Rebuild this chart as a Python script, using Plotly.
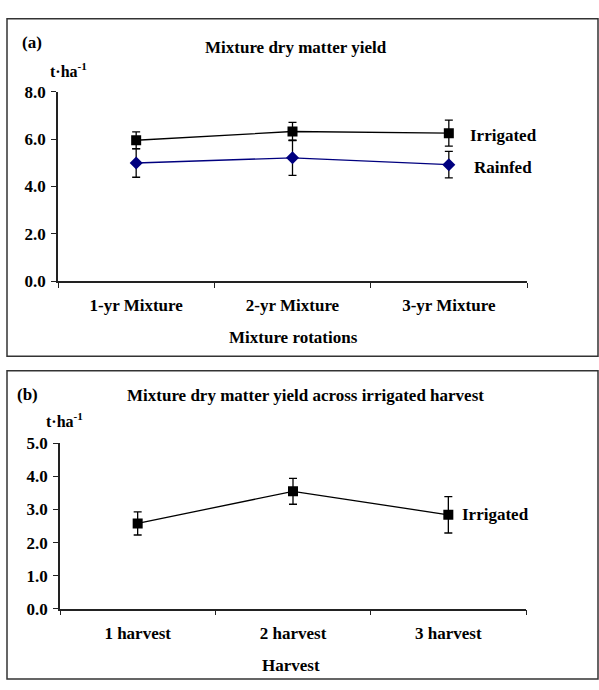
import plotly.graph_objects as go

# Panel (a): mixture dry matter yield by rotation
rotations = ["1-yr Mixture", "2-yr Mixture", "3-yr Mixture"]
irrigated_a = [5.95, 6.32, 6.25]
irrigated_a_err = [0.35, 0.38, 0.55]
rainfed_a = [4.99, 5.21, 4.92]
rainfed_a_err = [0.60, 0.74, 0.56]

# Panel (b): mixture dry matter yield across irrigated harvests
harvests = ["1 harvest", "2 harvest", "3 harvest"]
irrigated_b = [2.58, 3.55, 2.84]
irrigated_b_err = [0.35, 0.39, 0.55]

W, H = 599, 690
FONT = "Liberation Serif"
NAVY = "#00007f"
FS = 17


def px(x):
    return x / W


def py(y):
    return 1 - y / H


fig = go.Figure()

err_style = dict(type="data", color="black", thickness=1.3, width=4)

fig.add_trace(go.Scatter(
    x=rotations, y=irrigated_a, xaxis="x", yaxis="y",
    mode="lines+markers",
    line=dict(color="black", width=1.3),
    marker=dict(symbol="square", size=10, color="black"),
    error_y=dict(array=irrigated_a_err, **err_style),
    name="Irrigated", showlegend=False,
))
fig.add_trace(go.Scatter(
    x=rotations, y=rainfed_a, xaxis="x", yaxis="y",
    mode="lines+markers",
    line=dict(color=NAVY, width=1.3),
    marker=dict(symbol="diamond", size=10, color=NAVY),
    error_y=dict(array=rainfed_a_err, **err_style),
    name="Rainfed", showlegend=False,
))
fig.add_trace(go.Scatter(
    x=harvests, y=irrigated_b, xaxis="x2", yaxis="y2",
    mode="lines+markers",
    line=dict(color="black", width=1.3),
    marker=dict(symbol="square", size=10, color="black"),
    error_y=dict(array=irrigated_b_err, **err_style),
    name="Irrigated", showlegend=False,
))

tickfont = dict(family=FONT, size=FS, color="black", weight="bold")

xaxis_common = dict(
    type="category", range=[-0.5, 2.5], tickson="boundaries",
    ticks="outside", ticklen=5, tickwidth=1.3, tickcolor="#222",
    showline=True, linecolor="#222", linewidth=1.5,
    showgrid=False, zeroline=False, tickfont=tickfont,
    ticklabelstandoff=8, fixedrange=True,
)
yaxis_common = dict(
    ticks="outside", ticklen=5, tickwidth=1.3, tickcolor="#222",
    showline=True, linecolor="#222", linewidth=1.5,
    showgrid=False, zeroline=False, tickfont=tickfont,
    tickformat=".1f", ticklabelstandoff=2, fixedrange=True,
)

fig.update_layout(
    width=W, height=H,
    margin=dict(l=0, r=0, t=0, b=0),
    paper_bgcolor="white", plot_bgcolor="white",
    font=dict(family=FONT, color="black", weight="bold"),
    xaxis=dict(domain=[px(58), px(527)], anchor="y", **xaxis_common),
    yaxis=dict(domain=[py(280), py(85)], anchor="x", range=[0, 8], dtick=2,
               **yaxis_common),
    xaxis2=dict(domain=[px(60), px(526)], anchor="y2", **xaxis_common),
    yaxis2=dict(domain=[py(616.7), py(446.7)], anchor="x2", range=[0, 5],
                dtick=1, **yaxis_common),
)

# Panel frames
frame = dict(type="rect", xref="paper", yref="paper",
             line=dict(color="#333", width=1.5), fillcolor="rgba(0,0,0,0)")
fig.add_shape(x0=px(7), x1=px(598), y0=py(357), y1=py(10), **frame)
fig.add_shape(x0=px(7), x1=px(598), y0=py(689), y1=py(372), **frame)


def text(x, y, s, size=FS, xanchor="center", **kw):
    fig.add_annotation(
        x=x, y=y, text=s, showarrow=False, xanchor=xanchor, yanchor="middle",
        font=dict(family=FONT, size=size, color="black", weight="bold"), **kw)


# Panel (a) texts
text(px(20), py(34), "(a)", xanchor="left", xref="paper", yref="paper")
text(px(296), py(40), "Mixture dry matter yield", size=17,
     xref="paper", yref="paper")
text(px(48), py(63), "t·ha<sup>-1</sup>", size=16, xanchor="left",
     xref="paper", yref="paper")
text(px(293), py(338), "Mixture rotations", xref="paper", yref="paper")
text(rotations[-1], irrigated_a[-1], "Irrigated", xanchor="left",
     xref="x", yref="y", xshift=19, yshift=-2)
text(rotations[-1], rainfed_a[-1], "Rainfed", xanchor="left",
     xref="x", yref="y", xshift=23, yshift=-3)

# Panel (b) texts
text(px(15), py(396), "(b)", xanchor="left", xref="paper", yref="paper")
text(px(305), py(397), "Mixture dry matter yield across irrigated harvest",
     size=17, xref="paper", yref="paper")
text(px(44), py(423), "t·ha<sup>-1</sup>", size=16, xanchor="left",
     xref="paper", yref="paper")
text(px(291), py(675), "Harvest", xref="paper", yref="paper")
text(harvests[-1], irrigated_b[-1], "Irrigated", xanchor="left",
     xref="x2", yref="y2", xshift=12)

fig.write_html("out.html")
